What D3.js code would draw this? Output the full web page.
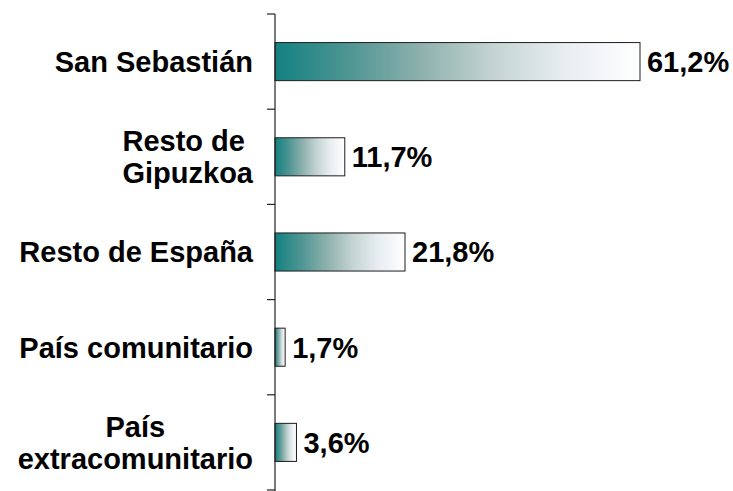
<!DOCTYPE html>
<html>
<head>
<meta charset="utf-8">
<script src="https://cdn.jsdelivr.net/npm/d3@7"></script>
<style>
  body { margin: 0; background: #fff; }
  text { font-family: "Liberation Sans", Arial, sans-serif; font-weight: bold; fill: #000; white-space: pre; }
</style>
</head>
<body>
<div class="chart"></div>
<script>
// categories as label lines, top to bottom
const categories = [
  ['San Sebastián'],
  ['Resto de ', 'Gipuzkoa'],
  ['Resto de España'],
  ['País comunitario'],
  ['País', 'extracomunitario']
];
const values = [61.2, 11.7, 21.8, 1.7, 3.6];
const valueLabels = ['61,2%', '11,7%', '21,8%', '1,7%', '3,6%'];

const W = 733, H = 491;
const axisX = 275;
const fontSize = 29;

const svg = d3.select('.chart')
  .append('svg')
    .attr('width', W)
    .attr('height', H);

const defs = svg.append('defs');
const grad = defs.append('linearGradient')
    .attr('id', 'barGrad')
    .attr('x1', '0%').attr('x2', '100%')
    .attr('y1', '0%').attr('y2', '0%');
[
  [0, '#138181'],
  [0.2, '#4e9593'],
  [0.4, '#8eb1ad'],
  [0.6, '#c4d4d3'],
  [0.8, '#e9eef2'],
  [1, '#ffffff']
].forEach(([o, c]) => grad.append('stop').attr('offset', o).attr('stop-color', c));

const x = d3.scaleLinear()
  .domain([0, 70])
  .range([axisX, axisX + 70 * 5.964]);

const y = d3.scaleBand()
  .domain(d3.range(values.length))
  .range([14, 490])
  .paddingInner(0.6)
  .paddingOuter(0.3);

// bars
svg.selectAll('.bar')
  .data(values)
  .enter()
  .append('rect')
    .classed('bar', true)
    .attr('x', x(0))
    .attr('y', (d, i) => y(i))
    .attr('width', d => x(d) - x(0))
    .attr('height', y.bandwidth())
    .attr('fill', 'url(#barGrad)')
    .attr('stroke', '#1e1e1e')
    .attr('stroke-width', 1);

// axis line + ticks at band boundaries
const step = y.step();
const bounds = d3.range(values.length + 1).map(i => 14 + i * step);
svg.append('line')
  .attr('x1', axisX).attr('x2', axisX)
  .attr('y1', 14).attr('y2', H)
  .attr('stroke', '#222')
  .attr('stroke-width', 1.2);
svg.selectAll('.tick')
  .data(bounds)
  .enter()
  .append('line')
    .classed('tick', true)
    .attr('x1', axisX - 8).attr('x2', axisX)
    .attr('y1', d => d).attr('y2', d => d)
    .attr('stroke', '#222')
    .attr('stroke-width', 1.2);

// value labels
svg.selectAll('.val')
  .data(values)
  .enter()
  .append('text')
    .classed('val', true)
    .attr('x', d => x(d) + 7)
    .attr('y', (d, i) => y(i) + y.bandwidth() / 2 + 10.4)
    .style('font-size', fontSize + 'px')
    .text((d, i) => valueLabels[i]);

// category labels: block right-aligned at 253, lines centred within block
const labelRight = 253, lineH = 31.5;
categories.forEach((lines, i) => {
  const cy = y(i) + y.bandwidth() / 2;
  const g = svg.append('g');
  const texts = lines.map((t, j) => g.append('text')
    .attr('y', cy + (j - (lines.length - 1) / 2) * lineH + 10.4)
    .style('font-size', fontSize + 'px')
    .text(t));
  const widths = texts.map(t => t.node().getComputedTextLength());
  const blockW = d3.max(widths);
  texts.forEach(t => t
    .attr('text-anchor', 'middle')
    .attr('x', labelRight - blockW / 2));
});
</script>
</body>
</html>
